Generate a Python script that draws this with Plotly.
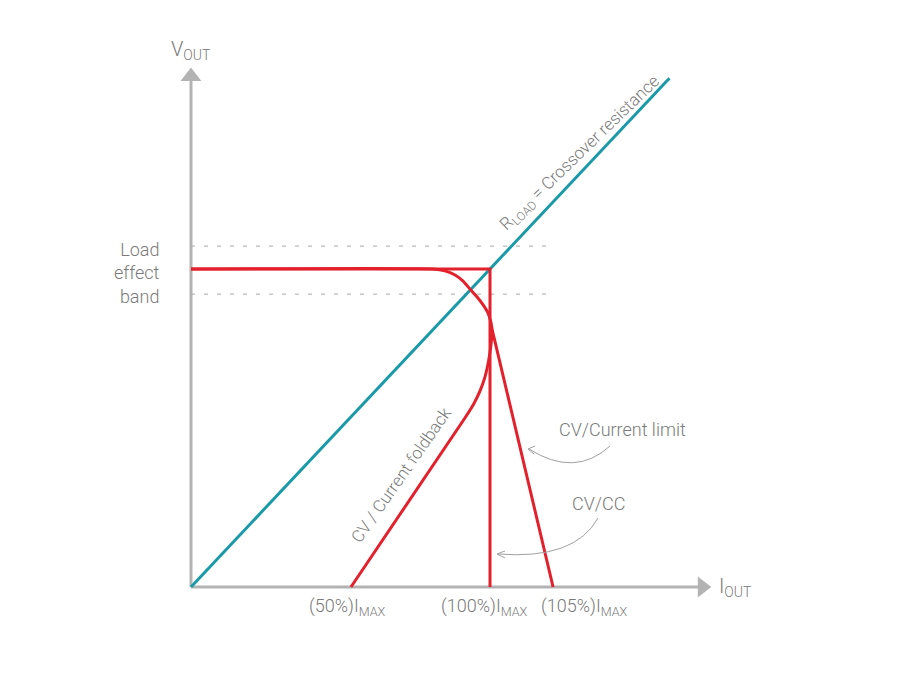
import plotly.graph_objects as go

# ---------------- data (units: % of I_MAX horizontally, % of V_set vertically) ----------------
crossover_x = [0, 160]
crossover_y = [0, 160]

cvcc_x = [0, 100, 100]
cvcc_y = [100, 100, 0]

# CV / current limit: flat, rounded knee, then steep line to 105% I_MAX
limit_x = [0, 80.9, 84.9, 88.3, 91.0, 93.3, 95.7, 97.7, 99.3, 100.3, 100.8, 121.1]
limit_y = [100, 100, 99.4, 98.1, 96.2, 93.7, 91.2, 88.7, 86.2, 83.3, 80.6, 0]

# CV / current foldback branch (starts at the knee apex, ends at 50% I_MAX)
fold_x = [100.8, 100.3, 99.5, 98.3, 96.6, 94.5, 91.5, 53.5]
fold_y = [80.6, 76.0, 71.0, 66.0, 61.5, 57.5, 53.0, 0]

band_levels = [107.2, 92.1]
band_end = 119.4

tick_pos = [52.5, 98.2, 131.5]
tick_labels = ["(50%)I<sub>MAX</sub>", "(100%)I<sub>MAX</sub>", "(105%)I<sub>MAX</sub>"]

x_axis_end = 174.0
y_axis_end = 163.5

# ---------------- styles ----------------
RED = "#e3212d"
TEAL = "#1a9aa8"
AXIS = "#b3b3b3"
TEXT = "#7a7a7a"
FONT = "Roboto, sans-serif"
PAGE_OFFSET = 8       # body margin of the html page

sx, sy = 2.99, 3.18   # px per unit
ox, oy = 191, 587     # origin in reference px


def ux(px):
    return (px - ox) / sx


def uy(py):
    return (oy - py) / sy


fig = go.Figure()

# axes (lines + arrowheads)
fig.add_trace(go.Scatter(x=[0, x_axis_end - 4], y=[0, 0], mode="lines",
                         line=dict(color=AXIS, width=3), hoverinfo="skip"))
fig.add_trace(go.Scatter(x=[0, 0], y=[0, y_axis_end - 4], mode="lines",
                         line=dict(color=AXIS, width=3), hoverinfo="skip"))
fig.add_trace(go.Scatter(x=[x_axis_end - 3], y=[0], mode="markers",
                         marker=dict(symbol="triangle-right", size=18, color=AXIS), hoverinfo="skip"))
fig.add_trace(go.Scatter(x=[0], y=[y_axis_end - 3], mode="markers",
                         marker=dict(symbol="triangle-up", size=18, color=AXIS), hoverinfo="skip"))

# load effect band
for lvl in band_levels:
    fig.add_trace(go.Scatter(x=[0, band_end], y=[lvl, lvl], mode="lines",
                             line=dict(color="#a8a8a8", width=1, dash="4px,9px"), hoverinfo="skip"))

# crossover resistance line
fig.add_trace(go.Scatter(x=crossover_x, y=crossover_y, mode="lines",
                         line=dict(color=TEAL, width=3), hoverinfo="skip"))

# characteristic curves
fig.add_trace(go.Scatter(x=limit_x, y=limit_y, mode="lines",
                         line=dict(color=RED, width=3, shape="spline", smoothing=0.4), hoverinfo="skip"))
fig.add_trace(go.Scatter(x=fold_x, y=fold_y, mode="lines",
                         line=dict(color=RED, width=3, shape="spline", smoothing=0.5), hoverinfo="skip"))
fig.add_trace(go.Scatter(x=cvcc_x, y=cvcc_y, mode="lines",
                         line=dict(color=RED, width=3), hoverinfo="skip"))

F = dict(size=18, color=TEXT, family=FONT, weight=300)

ann = []
# axis titles
ann.append(dict(x=0, y=uy(50), text="V<sub>OUT</sub>", showarrow=False,
                font=dict(F, size=20)))
ann.append(dict(x=ux(735), y=0, text="I<sub>OUT</sub>", showarrow=False,
                font=dict(F, size=20)))
# band label
ann.append(dict(x=ux(162), y=uy(273), text="Load<br>effect<br>band", showarrow=False,
                xanchor="right", align="right", font=F))
# tick labels
for p, t in zip(tick_pos, tick_labels):
    ann.append(dict(x=p, y=uy(607), text=t, showarrow=False, font=F))
# rotated labels
ann.append(dict(x=ux(580), y=uy(153), text="R<sub>LOAD</sub> = Crossover resistance",
                showarrow=False, textangle=-44, font=dict(F, size=17)))
ann.append(dict(x=ux(401), y=uy(475), text="CV / Current foldback",
                showarrow=False, textangle=-55, font=dict(F, size=17)))
ann.append(dict(x=ux(622), y=uy(429), text="CV/Current limit", showarrow=False, font=F))
ann.append(dict(x=ux(598), y=uy(503), text="CV/CC", showarrow=False, font=F))

PTR = dict(color="#a0a0a0", width=1)
shapes = [
    dict(type="path", xref="x", yref="y",
         path=f"M {ux(610)},{uy(446)} Q {ux(575)},{uy(478)} {ux(529)},{uy(449)}", line=PTR),
    dict(type="path", xref="x", yref="y",
         path=f"M {ux(535)},{uy(446)} L {ux(528)},{uy(449)} L {ux(534)},{uy(454)}", line=PTR),
    dict(type="path", xref="x", yref="y",
         path=f"M {ux(598)},{uy(518)} Q {ux(575)},{uy(560)} {ux(498)},{uy(554)}", line=PTR),
    dict(type="path", xref="x", yref="y",
         path=f"M {ux(505)},{uy(551)} L {ux(497)},{uy(554)} L {ux(505)},{uy(558)}", line=PTR),
]

fig.update_layout(
    width=924, height=684,
    margin=dict(l=0, r=0, t=0, b=0),
    paper_bgcolor="white", plot_bgcolor="white",
    showlegend=False,
    xaxis=dict(range=[ux(PAGE_OFFSET), ux(924 + PAGE_OFFSET)], visible=False, fixedrange=True),
    yaxis=dict(range=[uy(684 + PAGE_OFFSET), uy(PAGE_OFFSET)], visible=False, fixedrange=True),
    annotations=ann,
    shapes=shapes,
)

fig.write_html("out.html")
